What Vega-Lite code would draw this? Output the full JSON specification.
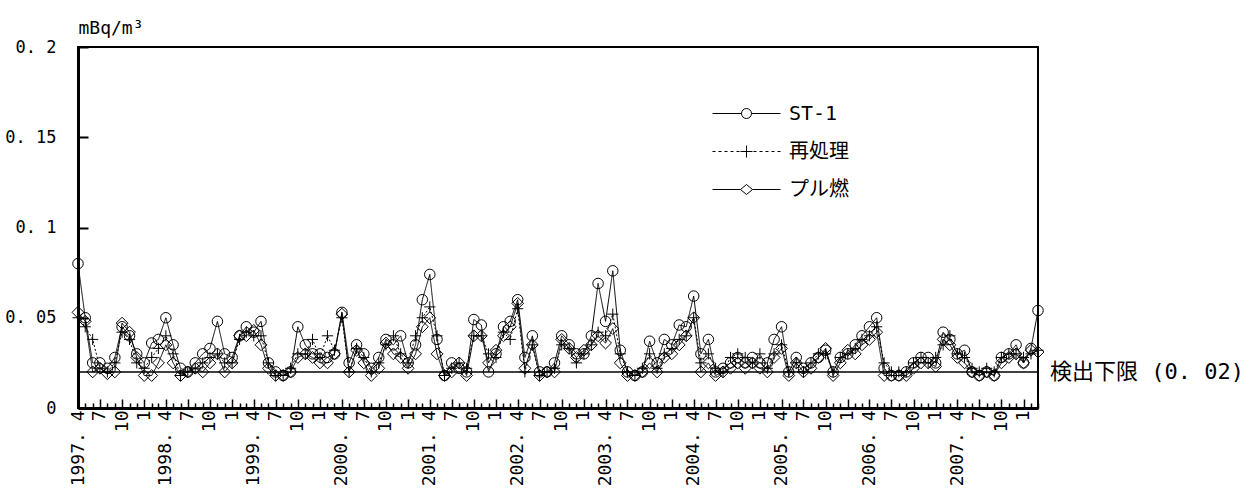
{
  "$schema": "https://vega.github.io/schema/vega-lite/v6.json",
  "width": 960,
  "height": 361,
  "autosize": {"type": "none"},
  "padding": {"left": 78, "top": 47, "right": 213, "bottom": 85},
  "background": "white",
  "config": {
    "view": {"stroke": "black", "strokeWidth": 2},
    "font": "DejaVu Sans Mono, Noto Sans CJK JP",
    "axis": {"labelColor": "black", "titleColor": "black", "domainColor": "black", "tickColor": "black", "grid": false, "labelFont": "DejaVu Sans Mono", "titleFont": "DejaVu Sans Mono"}
  },
  "datasets": {
    "monthly": [
      {"month": "1997-04-01", "ST-1": 0.080, "再処理": 0.050, "プル燃": 0.053},
      {"month": "1997-05-01", "ST-1": 0.050, "再処理": 0.045, "プル燃": 0.048},
      {"month": "1997-06-01", "ST-1": 0.025, "再処理": 0.038, "プル燃": 0.020},
      {"month": "1997-07-01", "ST-1": 0.025, "再処理": 0.022, "プル燃": 0.022},
      {"month": "1997-08-01", "ST-1": 0.022, "再処理": 0.020, "プル燃": 0.019},
      {"month": "1997-09-01", "ST-1": 0.028, "再処理": 0.025, "プル燃": 0.020},
      {"month": "1997-10-01", "ST-1": 0.045, "再処理": 0.042, "プル燃": 0.047},
      {"month": "1997-11-01", "ST-1": 0.040, "再処理": 0.038, "プル燃": 0.042},
      {"month": "1997-12-01", "ST-1": 0.030, "再処理": 0.025, "プル燃": 0.028},
      {"month": "1998-01-01", "ST-1": 0.025, "再処理": 0.022, "プル燃": 0.018},
      {"month": "1998-02-01", "ST-1": 0.036, "再処理": 0.028, "プル燃": 0.018},
      {"month": "1998-03-01", "ST-1": 0.038, "再処理": 0.033, "プル燃": 0.025},
      {"month": "1998-04-01", "ST-1": 0.050, "再処理": 0.040, "プル燃": 0.035},
      {"month": "1998-05-01", "ST-1": 0.035, "再処理": 0.030, "プル燃": 0.025},
      {"month": "1998-06-01", "ST-1": 0.022, "再処理": 0.018, "プル燃": 0.018},
      {"month": "1998-07-01", "ST-1": 0.020, "再処理": 0.020, "プル燃": 0.020},
      {"month": "1998-08-01", "ST-1": 0.025, "再処理": 0.022, "プル燃": 0.022},
      {"month": "1998-09-01", "ST-1": 0.030, "再処理": 0.025, "プル燃": 0.020},
      {"month": "1998-10-01", "ST-1": 0.033, "再処理": 0.028, "プル燃": 0.025},
      {"month": "1998-11-01", "ST-1": 0.048, "再処理": 0.030, "プル燃": 0.030},
      {"month": "1998-12-01", "ST-1": 0.030, "再処理": 0.025, "プル燃": 0.020},
      {"month": "1999-01-01", "ST-1": 0.028, "再処理": 0.025, "プル燃": 0.025},
      {"month": "1999-02-01", "ST-1": 0.040, "再処理": 0.038, "プル燃": 0.040},
      {"month": "1999-03-01", "ST-1": 0.045, "再処理": 0.042, "プル燃": 0.040},
      {"month": "1999-04-01", "ST-1": 0.042, "再処理": 0.040, "プル燃": 0.043},
      {"month": "1999-05-01", "ST-1": 0.048, "再処理": 0.040, "プル燃": 0.035},
      {"month": "1999-06-01", "ST-1": 0.025, "再処理": 0.025, "プル燃": 0.022},
      {"month": "1999-07-01", "ST-1": 0.020, "再処理": 0.018, "プル燃": 0.018},
      {"month": "1999-08-01", "ST-1": 0.018, "再処理": 0.018, "プル燃": 0.018},
      {"month": "1999-09-01", "ST-1": 0.020, "再処理": 0.022, "プル燃": 0.020},
      {"month": "1999-10-01", "ST-1": 0.045, "再処理": 0.030, "プル燃": 0.028},
      {"month": "1999-11-01", "ST-1": 0.035, "再処理": 0.030, "プル燃": 0.030},
      {"month": "1999-12-01", "ST-1": 0.030, "再処理": 0.038, "プル燃": 0.028},
      {"month": "2000-01-01", "ST-1": 0.030, "再処理": 0.028, "プル燃": 0.025},
      {"month": "2000-02-01", "ST-1": 0.028, "再処理": 0.040, "プル燃": 0.025},
      {"month": "2000-03-01", "ST-1": 0.030, "再処理": 0.032, "プル燃": 0.030},
      {"month": "2000-04-01", "ST-1": 0.053, "再処理": 0.050, "プル燃": 0.052},
      {"month": "2000-05-01", "ST-1": 0.025, "再処理": 0.020, "プル燃": 0.020},
      {"month": "2000-06-01", "ST-1": 0.035, "再処理": 0.033, "プル燃": 0.032},
      {"month": "2000-07-01", "ST-1": 0.030, "再処理": 0.028, "プル燃": 0.025},
      {"month": "2000-08-01", "ST-1": 0.022, "再処理": 0.020, "プル燃": 0.018},
      {"month": "2000-09-01", "ST-1": 0.028, "再処理": 0.025, "プル燃": 0.022},
      {"month": "2000-10-01", "ST-1": 0.038, "再処理": 0.035, "プル燃": 0.036},
      {"month": "2000-11-01", "ST-1": 0.035, "再処理": 0.040, "プル燃": 0.030},
      {"month": "2000-12-01", "ST-1": 0.040, "再処理": 0.030, "プル燃": 0.028},
      {"month": "2001-01-01", "ST-1": 0.025, "再処理": 0.025, "プル燃": 0.022},
      {"month": "2001-02-01", "ST-1": 0.035, "再処理": 0.040, "プル燃": 0.030},
      {"month": "2001-03-01", "ST-1": 0.060, "再処理": 0.050, "プル燃": 0.045},
      {"month": "2001-04-01", "ST-1": 0.074, "再処理": 0.056, "プル燃": 0.050},
      {"month": "2001-05-01", "ST-1": 0.038, "再処理": 0.040, "プル燃": 0.030},
      {"month": "2001-06-01", "ST-1": 0.018, "再処理": 0.018, "プル燃": 0.018},
      {"month": "2001-07-01", "ST-1": 0.025, "再処理": 0.022, "プル燃": 0.020},
      {"month": "2001-08-01", "ST-1": 0.022, "再処理": 0.025, "プル燃": 0.025},
      {"month": "2001-09-01", "ST-1": 0.020, "再処理": 0.022, "プル燃": 0.018},
      {"month": "2001-10-01", "ST-1": 0.049, "再処理": 0.040, "プル燃": 0.040},
      {"month": "2001-11-01", "ST-1": 0.046, "再処理": 0.040, "プル燃": 0.040},
      {"month": "2001-12-01", "ST-1": 0.020, "再処理": 0.030, "プル燃": 0.025},
      {"month": "2002-01-01", "ST-1": 0.030, "再処理": 0.028, "プル燃": 0.032},
      {"month": "2002-02-01", "ST-1": 0.045, "再処理": 0.042, "プル燃": 0.040},
      {"month": "2002-03-01", "ST-1": 0.048, "再処理": 0.038, "プル燃": 0.045},
      {"month": "2002-04-01", "ST-1": 0.060, "再処理": 0.055, "プル燃": 0.058},
      {"month": "2002-05-01", "ST-1": 0.028, "再処理": 0.020, "プル燃": 0.022},
      {"month": "2002-06-01", "ST-1": 0.040, "再処理": 0.035, "プル燃": 0.035},
      {"month": "2002-07-01", "ST-1": 0.020, "再処理": 0.018, "プル燃": 0.018},
      {"month": "2002-08-01", "ST-1": 0.020, "再処理": 0.020, "プル燃": 0.020},
      {"month": "2002-09-01", "ST-1": 0.025, "再処理": 0.022, "プル燃": 0.020},
      {"month": "2002-10-01", "ST-1": 0.040, "再処理": 0.035, "プル燃": 0.038},
      {"month": "2002-11-01", "ST-1": 0.035, "再処理": 0.033, "プル燃": 0.033},
      {"month": "2002-12-01", "ST-1": 0.030, "再処理": 0.025, "プル燃": 0.028},
      {"month": "2003-01-01", "ST-1": 0.030, "再処理": 0.030, "プル燃": 0.032},
      {"month": "2003-02-01", "ST-1": 0.040, "再処理": 0.035, "プル燃": 0.035},
      {"month": "2003-03-01", "ST-1": 0.069, "再処理": 0.042, "プル燃": 0.040},
      {"month": "2003-04-01", "ST-1": 0.048, "再処理": 0.040, "プル燃": 0.036},
      {"month": "2003-05-01", "ST-1": 0.076, "再処理": 0.052, "プル燃": 0.044},
      {"month": "2003-06-01", "ST-1": 0.032, "再処理": 0.030, "プル燃": 0.025},
      {"month": "2003-07-01", "ST-1": 0.020, "再処理": 0.020, "プル燃": 0.018},
      {"month": "2003-08-01", "ST-1": 0.018, "再処理": 0.018, "プル燃": 0.018},
      {"month": "2003-09-01", "ST-1": 0.020, "再処理": 0.022, "プル燃": 0.020},
      {"month": "2003-10-01", "ST-1": 0.037, "再処理": 0.030, "プル燃": 0.025},
      {"month": "2003-11-01", "ST-1": 0.025, "再処理": 0.022, "プル燃": 0.020},
      {"month": "2003-12-01", "ST-1": 0.038, "再処理": 0.030, "プル燃": 0.028},
      {"month": "2004-01-01", "ST-1": 0.035, "再処理": 0.033, "プル燃": 0.030},
      {"month": "2004-02-01", "ST-1": 0.046, "再処理": 0.038, "プル燃": 0.035},
      {"month": "2004-03-01", "ST-1": 0.045, "再処理": 0.040, "プル燃": 0.040},
      {"month": "2004-04-01", "ST-1": 0.062, "再処理": 0.050, "プル燃": 0.050},
      {"month": "2004-05-01", "ST-1": 0.030, "再処理": 0.025, "プル燃": 0.020},
      {"month": "2004-06-01", "ST-1": 0.038, "再処理": 0.030, "プル燃": 0.025},
      {"month": "2004-07-01", "ST-1": 0.020, "再処理": 0.022, "プル燃": 0.018},
      {"month": "2004-08-01", "ST-1": 0.022, "再処理": 0.020, "プル燃": 0.020},
      {"month": "2004-09-01", "ST-1": 0.025, "再処理": 0.028, "プル燃": 0.022},
      {"month": "2004-10-01", "ST-1": 0.028, "再処理": 0.030, "プル燃": 0.025},
      {"month": "2004-11-01", "ST-1": 0.025, "再処理": 0.028, "プル燃": 0.022},
      {"month": "2004-12-01", "ST-1": 0.028, "再処理": 0.025, "プル燃": 0.025},
      {"month": "2005-01-01", "ST-1": 0.025, "再処理": 0.030, "プル燃": 0.022},
      {"month": "2005-02-01", "ST-1": 0.025, "再処理": 0.022, "プル燃": 0.020},
      {"month": "2005-03-01", "ST-1": 0.038, "再処理": 0.030, "プル燃": 0.028},
      {"month": "2005-04-01", "ST-1": 0.045, "再処理": 0.035, "プル燃": 0.033},
      {"month": "2005-05-01", "ST-1": 0.020, "再処理": 0.020, "プル燃": 0.018},
      {"month": "2005-06-01", "ST-1": 0.028, "再処理": 0.025, "プル燃": 0.025},
      {"month": "2005-07-01", "ST-1": 0.022, "再処理": 0.020, "プル燃": 0.020},
      {"month": "2005-08-01", "ST-1": 0.025, "再処理": 0.025, "プル燃": 0.022},
      {"month": "2005-09-01", "ST-1": 0.028, "再処理": 0.030, "プル燃": 0.028},
      {"month": "2005-10-01", "ST-1": 0.032, "再処理": 0.030, "プル燃": 0.033},
      {"month": "2005-11-01", "ST-1": 0.020, "再処理": 0.020, "プル燃": 0.018},
      {"month": "2005-12-01", "ST-1": 0.028, "再処理": 0.028, "プル燃": 0.025},
      {"month": "2006-01-01", "ST-1": 0.030, "再処理": 0.030, "プル燃": 0.032},
      {"month": "2006-02-01", "ST-1": 0.035, "再処理": 0.033, "プル燃": 0.030},
      {"month": "2006-03-01", "ST-1": 0.040, "再処理": 0.038, "プル燃": 0.035},
      {"month": "2006-04-01", "ST-1": 0.045, "再処理": 0.040, "プル燃": 0.038},
      {"month": "2006-05-01", "ST-1": 0.050, "再処理": 0.045, "プル燃": 0.042},
      {"month": "2006-06-01", "ST-1": 0.022, "再処理": 0.025, "プル燃": 0.018},
      {"month": "2006-07-01", "ST-1": 0.018, "再処理": 0.020, "プル燃": 0.018},
      {"month": "2006-08-01", "ST-1": 0.018, "再処理": 0.020, "プル燃": 0.018},
      {"month": "2006-09-01", "ST-1": 0.020, "再処理": 0.020, "プル燃": 0.018},
      {"month": "2006-10-01", "ST-1": 0.025, "再処理": 0.025, "プル燃": 0.022},
      {"month": "2006-11-01", "ST-1": 0.028, "再処理": 0.028, "プル燃": 0.025},
      {"month": "2006-12-01", "ST-1": 0.028, "再処理": 0.025, "プル燃": 0.025},
      {"month": "2007-01-01", "ST-1": 0.025, "再処理": 0.028, "プル燃": 0.023},
      {"month": "2007-02-01", "ST-1": 0.042, "再処理": 0.035, "プル燃": 0.038},
      {"month": "2007-03-01", "ST-1": 0.038, "再処理": 0.040, "プル燃": 0.035},
      {"month": "2007-04-01", "ST-1": 0.030, "再処理": 0.030, "プル燃": 0.028},
      {"month": "2007-05-01", "ST-1": 0.032, "再処理": 0.028, "プル燃": 0.025},
      {"month": "2007-06-01", "ST-1": 0.020, "再処理": 0.022, "プル燃": 0.020},
      {"month": "2007-07-01", "ST-1": 0.018, "再処理": 0.020, "プル燃": 0.018},
      {"month": "2007-08-01", "ST-1": 0.020, "再処理": 0.022, "プル燃": 0.020},
      {"month": "2007-09-01", "ST-1": 0.018, "再処理": 0.020, "プル燃": 0.018},
      {"month": "2007-10-01", "ST-1": 0.028, "再処理": 0.028, "プル燃": 0.025},
      {"month": "2007-11-01", "ST-1": 0.030, "再処理": 0.030, "プル燃": 0.028},
      {"month": "2007-12-01", "ST-1": 0.035, "再処理": 0.030, "プル燃": 0.030},
      {"month": "2008-01-01", "ST-1": 0.025, "再処理": 0.028, "プル燃": 0.025},
      {"month": "2008-02-01", "ST-1": 0.033, "再処理": 0.030, "プル燃": 0.032},
      {"month": "2008-03-01", "ST-1": 0.054, "再処理": 0.032, "プル燃": 0.031}
    ],
    "limit": [
      {"month": "2008-03-01", "limit": 0.02, "label": "検出下限 (0. 02)"}
    ]
  },
  "resolve": {"scale": {"shape": "independent"}, "legend": {"shape": "independent"}},
  "layer": [
    {
      "data": {"name": "monthly"},
      "transform": [{"fold": ["ST-1", "再処理", "プル燃"], "as": ["series", "value"]}],
      "mark": {"type": "line", "color": "black", "strokeWidth": 1},
      "encoding": {
        "x": {
          "field": "month",
          "type": "temporal",
          "scale": {"type": "utc", "domain": ["1997-04-01", "2008-03-01"], "nice": false},
          "axis": {
            "title": null,
            "tickCount": {"interval": "month", "step": 1},
            "labelExpr": "utcmonth(datum.value) == 3 ? utcyear(datum.value) + '. 4' : (utcmonth(datum.value) % 3 == 0 ? '' + (utcmonth(datum.value) + 1) : '')",
            "labelAngle": 270,
            "labelAlign": "right",
            "labelBaseline": "middle",
            "labelFontSize": 18,
            "labelOverlap": false,
            "labelFlush": false,
            "labelPadding": 11,
            "tickSize": {"condition": {"test": "utcmonth(datum.value) % 3 == 0", "value": -9}, "value": -5},
            "tickWidth": 1.5,
            "domainWidth": 3
          }
        },
        "y": {
          "field": "value",
          "type": "quantitative",
          "scale": {"domain": [0, 0.2], "nice": false},
          "axis": {
            "values": [0, 0.05, 0.1, 0.15, 0.2],
            "labelExpr": "datum.value == 0 ? '0' : replace(toString(datum.value), '.', '. ')",
            "labelFontSize": 17,
            "labelPadding": 32,
            "tickSize": -10,
            "tickWidth": 2,
            "domainWidth": 3,
            "title": "mBq/m³",
            "titleAngle": 0,
            "titleAlign": "left",
            "titleBaseline": "bottom",
            "titleX": 0,
            "titleY": -10,
            "titleFontSize": 18,
            "titleFontWeight": "normal"
          }
        },
        "detail": {"field": "series"},
        "strokeDash": {
          "field": "series",
          "scale": {"domain": ["ST-1", "再処理", "プル燃"], "range": [[1, 0], [2, 2], [1, 0]]},
          "legend": null
        }
      }
    },
    {
      "data": {"name": "limit"},
      "mark": {"type": "rule", "color": "black", "strokeWidth": 1.5},
      "encoding": {
        "y": {"field": "limit", "type": "quantitative"}
      }
    },
    {
      "data": {"name": "limit"},
      "mark": {"type": "text", "align": "left", "baseline": "middle", "dx": 12, "fontSize": 22, "font": "DejaVu Sans Mono, Noto Sans CJK JP", "color": "black"},
      "encoding": {
        "x": {"field": "month", "type": "temporal"},
        "y": {"field": "limit", "type": "quantitative"},
        "text": {"field": "label"}
      }
    },
    {
      "data": {"name": "monthly"},
      "transform": [{"fold": ["ST-1", "再処理", "プル燃"], "as": ["series", "value"]}],
      "mark": {"type": "point", "filled": false, "color": "black", "strokeWidth": 1, "opacity": 1},
      "encoding": {
        "x": {"field": "month", "type": "temporal"},
        "y": {"field": "value", "type": "quantitative"},
        "shape": {
          "field": "series",
          "scale": {"domain": ["ST-1", "再処理", "プル燃"], "range": ["circle", "M-1,0H1M0,-1V1", "diamond"]},
          "legend": null
        },
        "size": {
          "field": "series",
          "type": "nominal",
          "scale": {"domain": ["ST-1", "再処理", "プル燃"], "range": [110, 140, 150]},
          "legend": null
        }
      }
    },
    {
      "data": {"name": "monthly"},
      "transform": [{"fold": ["ST-1", "再処理", "プル燃"], "as": ["series", "value"]}, {"filter": "datum.value < 0"}],
      "mark": {"type": "point", "filled": false, "color": "black", "strokeWidth": 1, "opacity": 1},
      "encoding": {
        "x": {"field": "month", "type": "temporal"},
        "y": {"field": "value", "type": "quantitative"},
        "shape": {
          "field": "series",
          "scale": {
            "domain": ["ST-1", "再処理", "プル燃"],
            "range": [
              "M-1.7,0H-0.25M0.25,0H1.7M-0.25,0A0.25,0.25 0 1,1 0.25,0A0.25,0.25 0 1,1 -0.25,0",
              "M-1.7,0H-1.55M-1.4,0H-1.25M-1.1,0H-0.95M-0.8,0H-0.65M-0.5,0H-0.35M-0.3,0H0.3M0,-0.3V0.3M0.35,0H0.5M0.65,0H0.8M0.95,0H1.1M1.25,0H1.4M1.55,0H1.7",
              "M-1.7,0H-0.3M0.3,0H1.7M-0.3,0L0,-0.25L0.3,0L0,0.25Z"
            ]
          },
          "legend": {
            "title": null,
            "orient": "none",
            "legendX": 634,
            "legendY": 46,
            "symbolSize": 1600,
            "symbolOffset": 14,
            "symbolStrokeWidth": 1,
            "symbolStrokeColor": "black",
            "symbolFillColor": "white",
            "labelFontSize": 20,
            "labelFont": "DejaVu Sans Mono, Noto Sans CJK JP",
            "labelColor": "black",
            "labelOffset": 22,
            "rowPadding": 7
          }
        }
      }
    }
  ]
}
